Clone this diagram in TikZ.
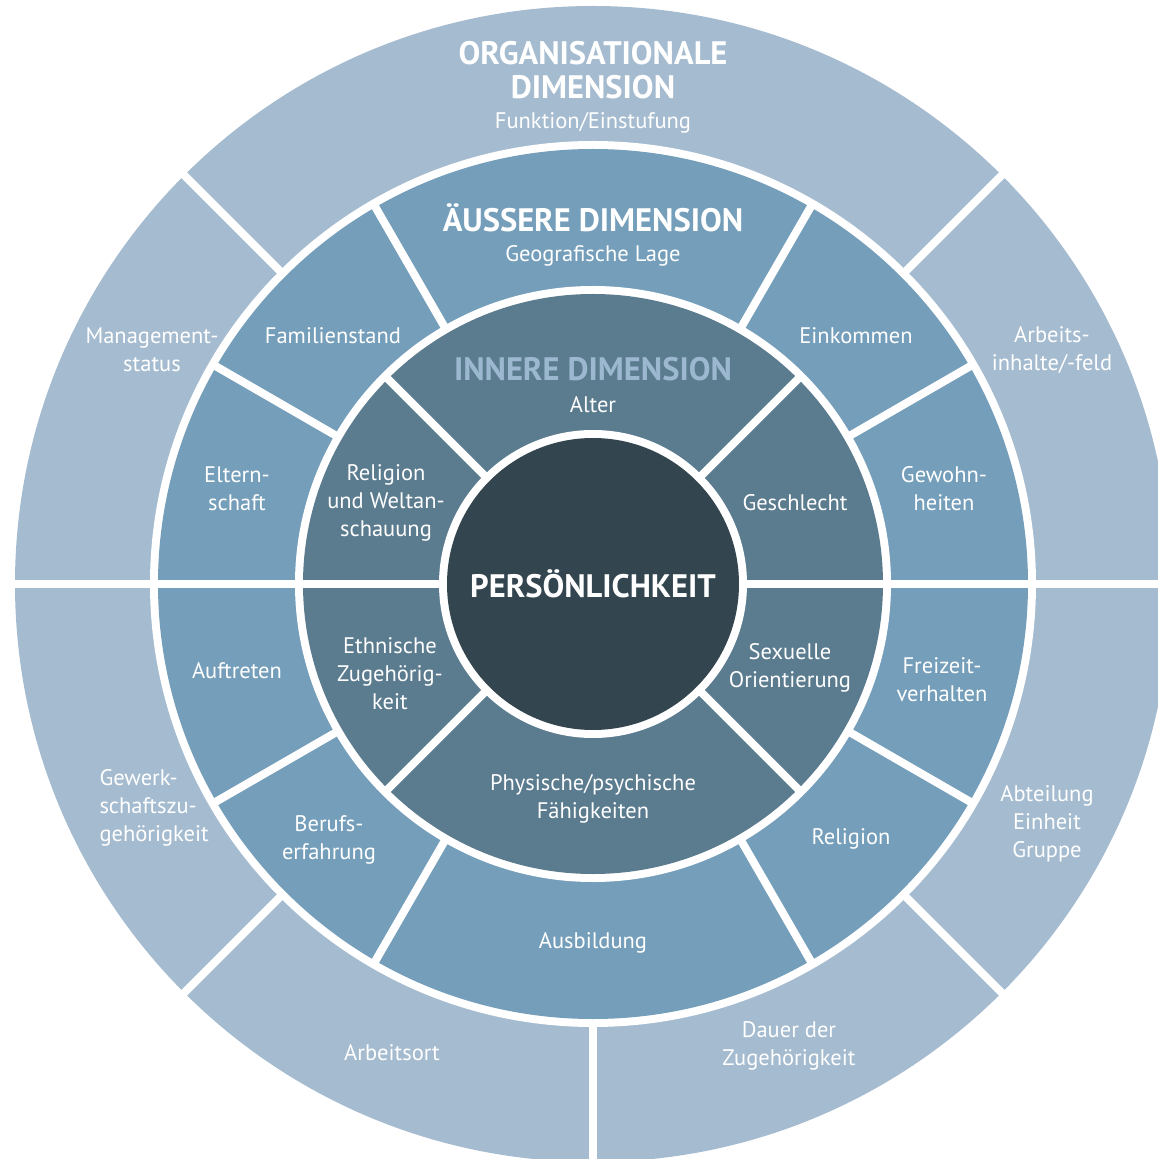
\documentclass[tikz,border=0pt]{standalone}
\usepackage{fontspec}
\setmainfont{PT Sans}
\usepackage{tikz}
\usepackage{xcolor}

\definecolor{outerblue}{HTML}{A5BBCF}
\definecolor{midblue}{HTML}{749EBA}
\definecolor{innerblue}{HTML}{5B7B8F}
\definecolor{coreblue}{HTML}{33454F}
\definecolor{headblue}{HTML}{9CB8D0}

\begin{document}
\begin{tikzpicture}[x=1pt, y=1pt,
  sep/.style={white, line width=8pt},
  lbl/.style={text=white, align=center, font=\fontsize{22.5}{28}\selectfont},
  head/.style={text=white, align=center, font=\fontsize{32.5}{34}\selectfont\bfseries}]
\clip (-593,-575) rectangle (565,584);

% Outer ring
\fill[outerblue] (0,0) circle (578);
\draw[sep] (45:430) -- (45:620);
\draw[sep] (135:430) -- (135:620);
\draw[sep] (225:430) -- (225:620);
\draw[sep] (270:430) -- (270:620);
\draw[sep] (315:430) -- (315:620);
\fill[white] (0,0) circle (443);

% Middle ring
\fill[midblue] (0,0) circle (435);
\draw[sep] (30:285) -- (30:440);
\draw[sep] (60:285) -- (60:440);
\draw[sep] (120:285) -- (120:440);
\draw[sep] (150:285) -- (150:440);
\draw[sep] (210:285) -- (210:440);
\draw[sep] (240:285) -- (240:440);
\draw[sep] (300:285) -- (300:440);
\draw[sep] (330:285) -- (330:440);
\fill[white] (0,0) circle (298);

% Inner ring
\fill[innerblue] (0,0) circle (290);
\draw[sep] (45:140) -- (45:295);
\draw[sep] (135:140) -- (135:295);
\draw[sep] (225:140) -- (225:295);
\draw[sep] (315:140) -- (315:295);
\draw[sep] (180:140) -- (180:620);
\draw[sep] (0:140) -- (0:620);
\fill[white] (0,0) circle (154);

% Core
\fill[coreblue] (0,0) circle (146);

% Dimension titles
\node[head] (orga) at (0,514) {ORGANISATIONALE\\DIMENSION};
\node[lbl] (funktion) at (0,461) {Funktion/Einstufung};
\node[head] (aussere) at (0,366) {ÄUSSERE DIMENSION};
\node[lbl] (geo) at (0,328) {Geografische Lage};
\node[head, text=headblue] (innere) at (0,215) {INNERE DIMENSION};
\node[lbl] (alter) at (0,179) {Alter};
\node[head] (pers) at (0,0) {PERSÖNLICHKEIT};

% Outer labels
\node[lbl] (mgmt) at (-441,234) {Management-\\status};
\node[lbl] (arbeits) at (459,234) {Arbeits-\\inhalte/-feld};
\node[lbl, align=left, anchor=west] (gewerk) at (-497,-224) {Gewerk-\\schaftszu-\\gehörigkeit};
\node[lbl] (abteil) at (454,-240) {Abteilung\\Einheit\\Gruppe};
\node[lbl] (arbeitsort) at (-201,-469) {Arbeitsort};
\node[lbl] (dauer) at (196,-462) {Dauer der\\Zugehörigkeit};

% Middle labels
\node[lbl] (famil) at (-260,248) {Familienstand};
\node[lbl] (einkommen) at (263,248) {Einkommen};
\node[lbl] (eltern) at (-356,95) {Eltern-\\schaft};
\node[lbl] (gewohn) at (351,95) {Gewohn-\\heiten};
\node[lbl] (auftreten) at (-356,-87) {Auftreten};
\node[lbl] (freiz) at (349,-96) {Freizeit-\\verhalten};
\node[lbl] (berufs) at (-264,-256) {Berufs-\\erfahrung};
\node[lbl] (relig) at (258,-255) {Religion};
\node[lbl] (ausb) at (0,-359) {Ausbildung};

% Inner labels
\node[lbl] (weltan) at (-207,81) {Religion\\und Weltan-\\schauung};
\node[lbl] (geschl) at (202,81) {Geschlecht};
\node[lbl] (ethn) at (-203,-90) {Ethnische\\Zugehörig-\\keit};
\node[lbl] (sex) at (197,-84) {Sexuelle\\Orientierung};
\node[lbl] (phys) at (0,-215) {Physische/psychische\\Fähigkeiten};
\end{tikzpicture}
\end{document}
